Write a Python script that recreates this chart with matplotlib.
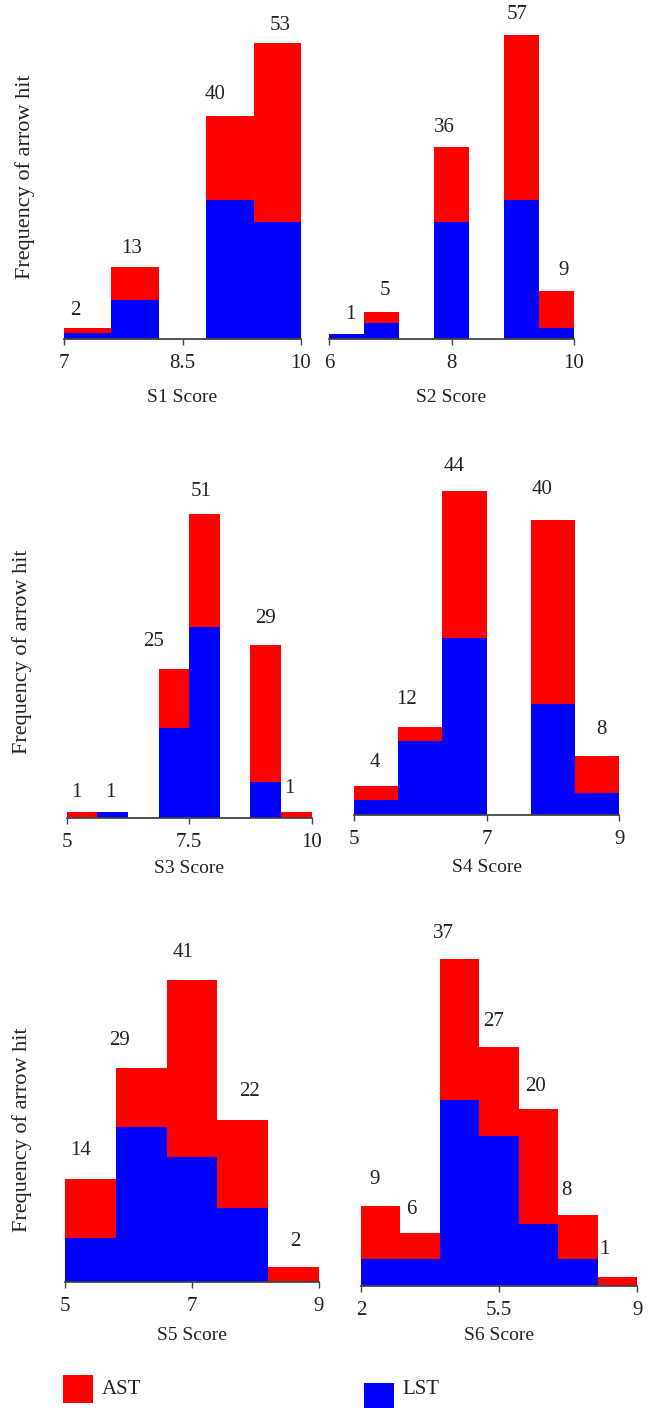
import numpy as np
import matplotlib
matplotlib.use("Agg")
import matplotlib.pyplot as plt
from matplotlib.patches import Rectangle

plt.rcParams['font.family'] = ['Liberation Serif', 'DejaVu Serif']

# Data: bin ranges, counts per bin (LST blue at bottom, AST red on top)
names = ['S1', 'S2', 'S3', 'S4', 'S5', 'S6']
ranges = [(7, 10), (6, 10), (5, 10), (5, 9), (5, 9), (2, 9)]
ticks = [[7, 8.5, 10], [6, 8, 10], [5, 7.5, 10], [5, 7, 9], [5, 7, 9], [2, 5.5, 9]]
tick_labels = [['7', '8.5', '10'], ['6', '8', '10'], ['5', '7.5', '10'],
               ['5', '7', '9'], ['5', '7', '9'], ['2', '5.5', '9']]

s1_lst = [1, 7, 0, 25, 21]
s1_ast = [1, 6, 0, 15, 32]
s2_lst = [1, 3, 0, 22, 0, 26, 2]
s2_ast = [0, 2, 0, 14, 0, 31, 7]
s3_lst = [0, 1, 0, 15, 32, 0, 6, 0]
s3_ast = [1, 0, 0, 10, 19, 0, 23, 1]
s4_lst = [2, 10, 24, 0, 15, 3]
s4_ast = [2, 2, 20, 0, 25, 5]
s5_lst = [6, 21, 17, 10, 0]
s5_ast = [8, 8, 24, 12, 2]
s6_lst = [3, 3, 21, 17, 7, 3, 0]
s6_ast = [6, 3, 16, 10, 13, 5, 1]

lst_all = [s1_lst, s2_lst, s3_lst, s4_lst, s5_lst, s6_lst]
ast_all = [s1_ast, s2_ast, s3_ast, s4_ast, s5_ast, s6_ast]

# Layout (pixels): x0, x1, baseline, top, y max
W, H = 654, 1408
rects = [(64, 301, 339, 20, 57.2), (329, 574, 339, 20, 59.8),
         (66.7, 311.7, 817.7, 470, 58.4), (353.7, 619.3, 815, 470, 46.8),
         (65, 319, 1281.7, 930, 47.8), (361, 637.3, 1285.7, 930, 40.3)]
# value label placement: x as fraction across the bar, y px above bar top
lab_fx = [[0.23, 0.42, 0, 0.19, 0.57],
          [0.61, 0.59, 0, 0.29, 0, 0.39, 0.69],
          [0.3, 0.42, 0, -0.17, 0.38, 0, 0.49, 0.26],
          [0.47, 0.2, 0.27, 0, 0.25, 0.59],
          [0.3, 0.07, 0.32, 0.64, 0.54],
          [0.34, 0.28, 0.1, 0.35, 0.42, 0.2, 0.16]]
lab_dy = [[17, 18, 0, 21, 18],
          [19, 22, 0, 19, 0, 20, 20],
          [19, 19, 0, 27, 23, 0, 27, 23],
          [23, 27, 24, 0, 31, 27],
          [28, 28, 28, 28, 25],
          [27, 23, 26, 26, 23, 25, 27]]
xlab_dy = [59, 59, 51, 53, 54, 50]
ylab_pos = [(25, 177), (22, 652), (22, 1130)]

RED = '#ff0000'
BLUE = '#0000ff'
TXT = '#222222'
px = 0.72  # points per pixel at dpi 100

fig = plt.figure(figsize=(W / 100, H / 100), dpi=100)

for i, name in enumerate(names):
    x0, x1, base, top, ymax = rects[i]
    ax = fig.add_axes([x0 / W, 1 - base / H, (x1 - x0) / W, (base - top) / H])
    lo, hi = ranges[i]
    lst = np.array(lst_all[i])
    ast = np.array(ast_all[i])
    n = len(lst)
    edges = np.linspace(lo, hi, n + 1)
    w = edges[1] - edges[0]
    ax.bar(edges[:-1], lst, width=w, align='edge', color=BLUE, linewidth=0)
    ax.bar(edges[:-1], ast, width=w, align='edge', bottom=lst, color=RED, linewidth=0)
    tot = lst + ast
    for j in range(n):
        if tot[j] == 0:
            continue
        ax.annotate(str(tot[j]), (edges[j] + lab_fx[i][j] * w, tot[j]),
                    xytext=(0, lab_dy[i][j] * px), textcoords='offset points',
                    ha='center', va='center', fontsize=15, color=TXT)
    ax.set_xlim(lo, hi)
    ax.set_ylim(0, ymax)
    for s in ['top', 'right', 'left']:
        ax.spines[s].set_visible(False)
    ax.spines['bottom'].set_color('#444444')
    ax.spines['bottom'].set_linewidth(1.3)
    ax.set_yticks([])
    ax.set_xticks(ticks[i])
    ax.set_xticklabels(tick_labels[i])
    ax.tick_params(axis='x', length=4, width=1, color='#444444', pad=7,
                   labelsize=15, labelcolor=TXT)
    ax.annotate(f'{name} Score', (0.5, 0), xycoords='axes fraction',
                xytext=(0, -xlab_dy[i] * px), textcoords='offset points',
                ha='center', va='center', fontsize=14, color=TXT)

for (lx, ly) in ylab_pos:
    fig.text(lx / W, 1 - ly / H, 'Frequency of arrow hit', rotation=90,
             ha='center', va='center', fontsize=16, color=TXT)

# Legend
fig.patches.append(Rectangle((62.7 / W, 1 - 1403 / H), 30 / W, 28 / H,
                             transform=fig.transFigure, color=RED, linewidth=0))
fig.text(102 / W, 1 - 1390 / H, 'AST', ha='left', va='center', fontsize=15, color=TXT)
fig.patches.append(Rectangle((364 / W, 1 - 1410 / H), 30 / W, 27 / H,
                             transform=fig.transFigure, color=BLUE, linewidth=0))
fig.text(402 / W, 1 - 1389 / H, 'LST', ha='left', va='center', fontsize=15, color=TXT)

fig.savefig('out.png', dpi=100, facecolor='white')
